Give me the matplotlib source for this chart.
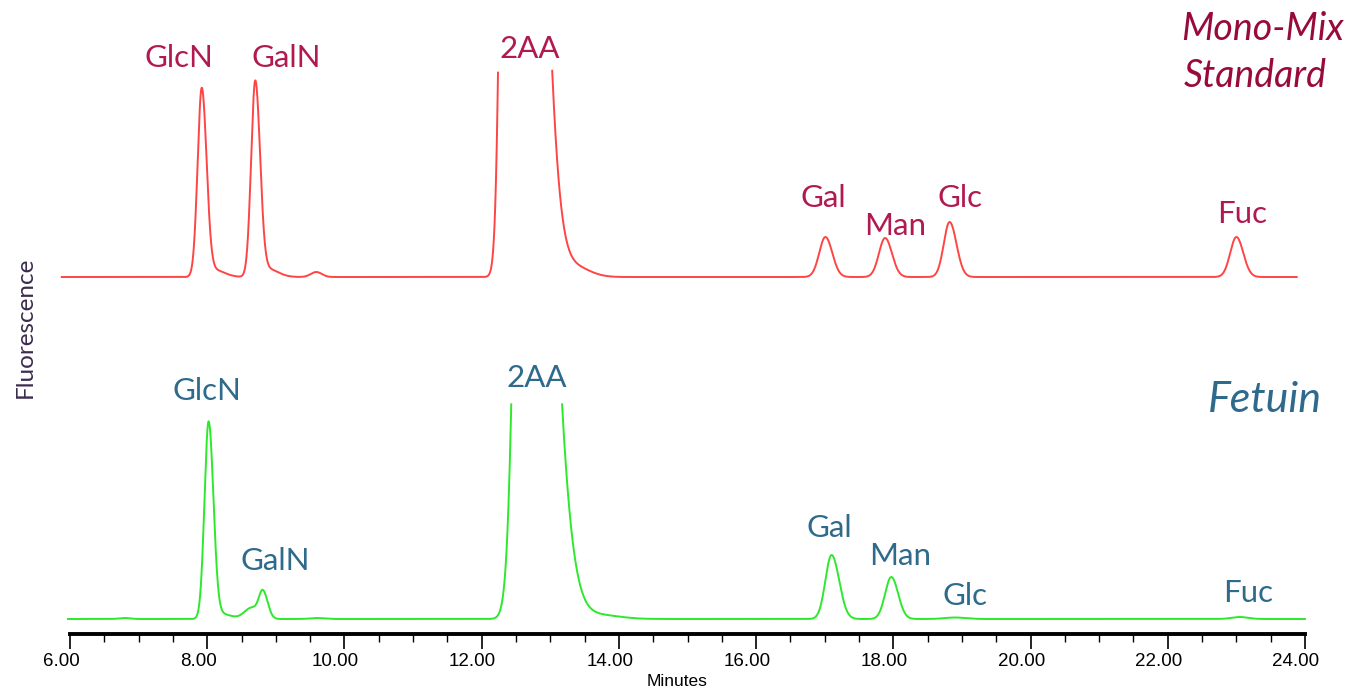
import numpy as np
import matplotlib
matplotlib.use("Agg")
import matplotlib.pyplot as plt
from matplotlib.ticker import MultipleLocator, FormatStrFormatter
import matplotlib.transforms as mtransforms

# ---------------- data ----------------
# Mono-Mix standard trace: peaks (retention time in minutes, height in px-units)
std_rt      = [7.92, 8.10, 8.70, 8.88, 9.59, 12.377, 13.35, 17.01, 17.88, 18.82, 23.00]
std_height  = [187,  7,    194,  8,    5,    1000,   10,    40,    39,    55,    40]
std_sig_l   = [0.060, 0.12, 0.060, 0.12, 0.08, 0.078, 0.22, 0.090, 0.090, 0.085, 0.090]
std_sig_r   = [0.070, 0.15, 0.070, 0.15, 0.08, 0.234, 0.22, 0.100, 0.100, 0.100, 0.100]
std_flat    = [0, 0, 0, 0, 0, 0.233, 0, 0, 0, 0, 0]
std_range   = [5.88, 23.88]

# Fetuin trace
fet_rt      = [6.80, 8.02, 8.20, 8.64, 8.81, 9.60, 12.645, 13.70, 17.10, 17.97, 18.90, 23.05]
fet_height  = [1,    196,  5,    11,   28,   1,    1000,   4,     64,    42,    1.5,   2]
fet_sig_l   = [0.08, 0.060, 0.12, 0.10, 0.060, 0.10, 0.122, 0.30, 0.090, 0.090, 0.15, 0.12]
fet_sig_r   = [0.08, 0.070, 0.15, 0.08, 0.070, 0.10, 0.300, 0.30, 0.110, 0.100, 0.15, 0.12]
fet_flat    = [0] * 12
fet_range   = [5.97, 24.0]

peak_names  = ["GlcN", "GalN", "2AA", "Gal", "Man", "Glc", "Fuc"]

# ---------------- layout ----------------
W, H = 1366, 691
AX_L, AX_R, AX_Y = 70, 1305, 634
std_base, fet_base = 357, 15
std_clip, fet_clip = 207, 215

std_lab_x = [7.589, 9.149, 12.706, 16.977, 18.026, 18.974, 23.085]
std_lab_y = [567, 567, 576, 427, 399, 427, 411]
fet_lab_x = [7.997, 8.988, 12.808, 17.064, 18.099, 19.047, 23.172]
fet_lab_y = [234, 64, 247, 97, 69, 29, 32]

STD_LAB_C = "#b01a50"
STD_TTL_C = "#990a3c"
FET_C = "#2e6a8c"


def trace(t, rt, h, sl, sr, fl):
    y = np.zeros_like(t)
    for c, hh, a, b, f in zip(rt, h, sl, sr, fl):
        cr = c + f
        part = np.where(t < c, hh * np.exp(-(t - c) ** 2 / (2 * a * a)),
                        np.where(t > cr, hh * np.exp(-(t - cr) ** 2 / (2 * b * b)), hh))
        y += part
    return y


fig = plt.figure(figsize=(W / 100, H / 100), dpi=100)
ax = fig.add_axes([AX_L / W, (H - AX_Y) / H, (AX_R - AX_L) / W, AX_Y / H])
ax.set_xlim(6, 24)
ax.set_ylim(0, AX_Y)

t1 = np.arange(std_range[0], std_range[1], 0.001)
s1 = trace(t1, std_rt, std_height, std_sig_l, std_sig_r, std_flat)
s1 = np.where(s1 > std_clip, np.nan, s1)
ax.plot(t1, std_base + s1, color="#ff3030", lw=1.4, alpha=0.9, clip_on=False)

t2 = np.arange(fet_range[0], fet_range[1], 0.001)
s2 = trace(t2, fet_rt, fet_height, fet_sig_l, fet_sig_r, fet_flat)
s2 = np.where(s2 > fet_clip, np.nan, s2)
ax.plot(t2, fet_base + s2, color="#2ee82e", lw=1.4, clip_on=False)

lab_font = ["Lato", "DejaVu Sans"]
for name, x, y in zip(peak_names, std_lab_x, std_lab_y):
    ax.text(x, y, name, color=STD_LAB_C, fontsize=22.5, family=lab_font,
            ha="center", va="baseline")
for name, x, y in zip(peak_names, fet_lab_x, fet_lab_y):
    ax.text(x, y, name, color=FET_C, fontsize=22.5, family=lab_font,
            ha="center", va="baseline")

fig.text(1181 / W, 1 - 40 / H, "Mono-Mix", color=STD_TTL_C, fontsize=27,
         style="italic", family=lab_font, ha="left", va="baseline")
fig.text(1184 / W, 1 - 87 / H, "Standard", color=STD_TTL_C, fontsize=27,
         style="italic", family=lab_font, ha="left", va="baseline")
fig.text(1208 / W, 1 - 412 / H, "Fetuin", color=FET_C, fontsize=31,
         style="italic", family=lab_font, ha="left", va="baseline")

fig.text(25 / W, 1 - 327 / H, "Fluorescence", color="#3b2c4f", fontsize=17.5,
         rotation=90, family=lab_font, ha="center", va="center")

for s in ["top", "left", "right"]:
    ax.spines[s].set_visible(False)
ax.spines["bottom"].set_linewidth(2.8)
ax.yaxis.set_visible(False)
ax.xaxis.set_major_locator(MultipleLocator(2))
ax.xaxis.set_minor_locator(MultipleLocator(0.5))
ax.xaxis.set_major_formatter(FormatStrFormatter("%.2f"))
ax.tick_params(axis="x", which="major", length=11, width=1.2, direction="out",
               pad=3, labelsize=13.5)
ax.tick_params(axis="x", which="minor", length=6, width=1.0, direction="out")
offset = mtransforms.ScaledTranslation(-9 / 100, 0, fig.dpi_scale_trans)
for lab in ax.get_xticklabels():
    lab.set_family(["Liberation Sans", "DejaVu Sans"])
    lab.set_transform(lab.get_transform() + offset)

fig.text(677 / W, 1 - 682 / H, "Minutes", fontsize=12.5,
         family=["Liberation Sans", "DejaVu Sans"], ha="center", va="center")

fig.savefig("out.png", dpi=100)
